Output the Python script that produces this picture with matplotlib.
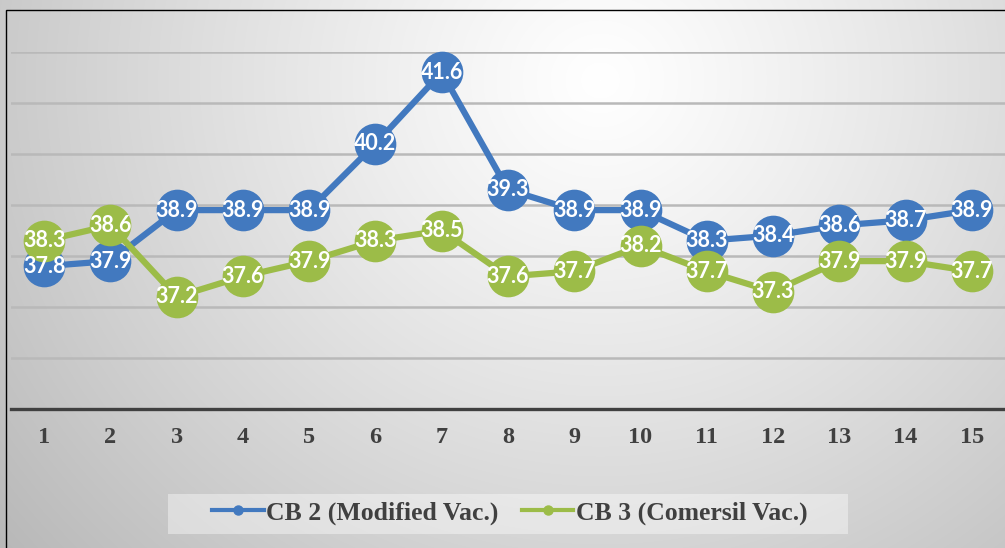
import numpy as np
import matplotlib
matplotlib.use("Agg")
import matplotlib.pyplot as plt
from matplotlib.lines import Line2D
from matplotlib.patches import Rectangle

# Measurement number on the x axis
samples = list(range(1, 16))
tick_labels = [str(s) for s in samples]

# Readings for the two vaccine batches
cb2_modified = [37.8, 37.9, 38.9, 38.9, 38.9, 40.2, 41.6, 39.3, 38.9, 38.9, 38.3, 38.4, 38.6, 38.7, 38.9]
cb3_comersil = [38.3, 38.6, 37.2, 37.6, 37.9, 38.3, 38.5, 37.6, 37.7, 38.2, 37.7, 37.3, 37.9, 37.9, 37.7]

series_names = ["CB 2 (Modified Vac.)", "CB 3 (Comersil Vac.)"]
blue = "#4279BF"
green = "#9CBC48"

W, H = 1005, 548
fig = plt.figure(figsize=(W / 100, H / 100), dpi=100)

# Soft radial gradient behind the whole chart
bg = fig.add_axes([0, 0, 1, 1], zorder=-10)
yy, xx = np.mgrid[0:H, 0:W]
r = np.sqrt(((xx - 600) / 660.0) ** 2 + ((yy - 80) / 620.0) ** 2)
shade = 1.0 - 0.23 * np.clip(r, 0, 1.4) ** 1.15
bg.imshow(np.dstack([shade, shade, shade]), extent=[0, W, H, 0], aspect="auto",
          interpolation="bilinear")
bg.set_xlim(0, W)
bg.set_ylim(H, 0)
bg.axis("off")

# Thin outer border (top and left edges visible)
fig.patches.append(Rectangle((6 / W, -0.1), 1.2, 1 - 10 / H + 0.1, transform=fig.transFigure,
                             fill=False, edgecolor="black", linewidth=1.0, zorder=-5))

# Pale box behind the legend
fig.patches.append(Rectangle((168 / W, 1 - 534 / H), 680 / W, 40 / H, transform=fig.transFigure,
                             facecolor="white", alpha=0.4, edgecolor="none", zorder=-4))

ax = fig.add_axes([11 / W, (H - 409) / H, 994 / W, 357 / H])
ax.patch.set_alpha(0)
ax.set_xlim(0.5, 15.5)
ax.set_ylim(35, 42)

for v in range(36, 43):
    ax.axhline(v, color="#b9b9b9", linewidth=1.8, zorder=1)

for vals, col in ((cb2_modified, blue), (cb3_comersil, green)):
    ax.plot(samples, vals, color=col, linewidth=4.5, marker="o", markersize=30,
            markeredgewidth=0, zorder=3, clip_on=False, solid_capstyle="round")

label_font = dict(family=["Lato", "DejaVu Sans"], weight="bold", size=15.5, color="white")
for vals in (cb2_modified, cb3_comersil):
    for x, v in zip(samples, vals):
        ax.text(x, v, f"{v:.1f}", ha="center", va="center", zorder=5, **label_font)

for s in ("top", "right", "left"):
    ax.spines[s].set_visible(False)
ax.spines["bottom"].set_color("#404040")
ax.spines["bottom"].set_linewidth(2.4)
ax.spines["bottom"].set_zorder(2)
ax.set_yticks([])
ax.set_xticks(samples)
ax.set_xticklabels(tick_labels, family="Liberation Serif", weight="bold", size=17.5, color="#404040")
ax.tick_params(axis="x", length=0, pad=13)

handles = [
    Line2D([], [], color=blue, linewidth=3, marker="o", markersize=6.5),
    Line2D([], [], color=green, linewidth=3, marker="o", markersize=6.5),
]
leg = fig.legend(handles, series_names, loc="center", bbox_to_anchor=(510 / W, 1 - 513 / H),
                 ncol=2, frameon=False, handlelength=2.0, handletextpad=0.1,
                 columnspacing=0.9,
                 prop=dict(family="Liberation Serif", weight="bold", size=18.5))
for t in leg.get_texts():
    t.set_color("#404040")

fig.savefig("out.png", dpi=100)
